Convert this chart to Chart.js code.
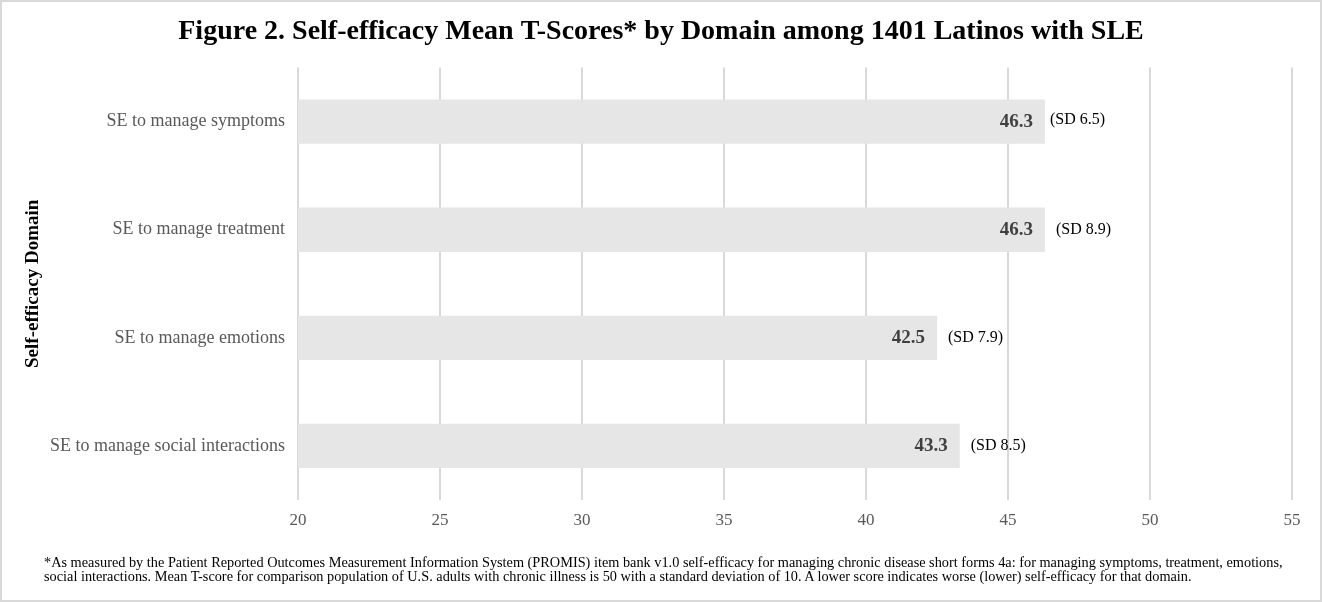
<!DOCTYPE html>
<html>
<head>
<meta charset="utf-8">
<script src="https://cdn.jsdelivr.net/npm/chart.js@4/dist/chart.umd.min.js"></script>
<style>
  html, body { margin: 0; padding: 0; background: #fff; }
  #wrap { position: relative; width: 1322px; height: 602px; box-sizing: border-box; border: 2px solid #d9d9d9; }
  #wrap canvas { position: absolute; left: 0; top: 0; }
  #note { position: absolute; left: 42px; top: 553px; width: 1275px; white-space: nowrap; font-family: "Liberation Serif", "Times New Roman", serif; font-size: 14.3px; line-height: 14px; color: #000; }
</style>
</head>
<body>
<div id="wrap">
  <canvas id="chart" width="1318" height="598"></canvas>
  <div id="note">*As measured by the Patient Reported Outcomes Measurement Information System (PROMIS) item bank v1.0 self-efficacy for managing chronic disease short forms 4a: for managing symptoms, treatment, emotions,<br>social interactions. Mean T-score for comparison population of U.S. adults with chronic illness is 50 with a standard deviation of 10. A lower score indicates worse (lower) self-efficacy for that domain.</div>
</div>
<script>
const domains = ['SE to manage symptoms', 'SE to manage treatment', 'SE to manage emotions', 'SE to manage social interactions'];
const meanScores = [46.3, 46.3, 42.5, 43.3];
const sdLabels = ['(SD 6.5)', '(SD 8.9)', '(SD 7.9)', '(SD 8.5)'];
const xTicks = [20, 25, 30, 35, 40, 45, 50, 55];

const serif = '"Liberation Serif", "Times New Roman", serif';

// labels: bold mean inside bar end, SD just outside
const barLabels = {
    id: 'barLabels',
    afterDatasetsDraw(chart) {
        const ctx = chart.ctx;
        const meta = chart.getDatasetMeta(0);
        ctx.save();
        ctx.textBaseline = 'middle';
        meta.data.forEach((bar, i) => {
            ctx.font = 'bold 19px ' + serif;
            ctx.fillStyle = '#404040';
            ctx.textAlign = 'right';
            ctx.fillText(meanScores[i].toFixed(1), bar.x - 12, bar.y);
            ctx.font = '16px ' + serif;
            ctx.fillStyle = '#000';
            ctx.textAlign = 'left';
            ctx.fillText(sdLabels[i], bar.x + (i === 0 ? 5 : 11), bar.y - (i === 0 ? 2 : 0));
        });
        ctx.restore();
    }
};

new Chart(document.getElementById('chart'), {
    type: 'bar',
    data: {
        labels: domains,
        datasets: [{
            data: meanScores,
            backgroundColor: '#e7e6e6',
            barPercentage: 0.41,
            categoryPercentage: 1
        }]
    },
    options: {
        indexAxis: 'y',
        responsive: false,
        animation: false,
        layout: { padding: { left: 28, right: 28, top: 0, bottom: 60 } },
        plugins: {
            legend: { display: false },
            tooltip: { enabled: false },
            title: {
                display: true,
                text: 'Figure 2. Self-efficacy Mean T-Scores* by Domain among 1401 Latinos with SLE',
                color: '#000',
                font: { family: serif, size: 28, weight: 'bold' },
                padding: { top: 13, bottom: 19 }
            }
        },
        scales: {
            x: {
                min: 20,
                max: 55,
                afterBuildTicks(scale) {
                    scale.ticks = xTicks.map(v => ({ value: v }));
                },
                afterFit(scale) { scale.height = 40; },
                grid: { color: '#d9d9d9', lineWidth: 2, drawTicks: false },
                border: { display: false },
                ticks: { color: '#595959', padding: 10, font: { family: serif, size: 17 } }
            },
            y: {
                afterFit(scale) { scale.width = 268; },
                grid: { display: false, drawTicks: false },
                border: { display: false },
                ticks: { color: '#595959', padding: 13, font: { family: serif, size: 18 } },
                title: {
                    display: true,
                    text: 'Self-efficacy Domain',
                    color: '#000',
                    font: { family: serif, size: 19, weight: 'bold' },
                    padding: { top: -8, bottom: 0 }
                }
            }
        }
    },
    plugins: [barLabels]
});
</script>
</body>
</html>
